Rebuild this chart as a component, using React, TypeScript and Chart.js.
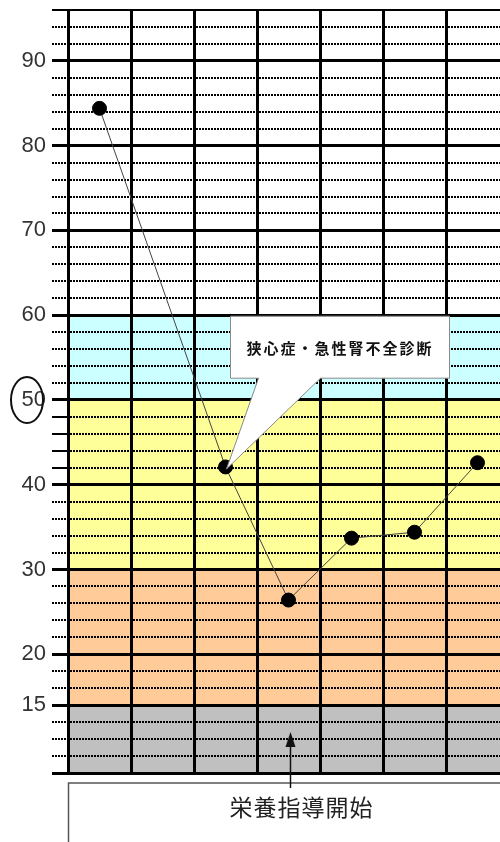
import { useEffect, useRef } from 'react';
import { Chart, registerables } from 'chart.js';

Chart.register(...registerables);

// One column per visit; visit 2 has no measurement.
const visits = ['1', '2', '3', '4', '5', '6', '7'];
const scoreValues: (number | null)[] = [84.4, null, 42.1, 26.4, 33.7, 34.4, 42.6];

// Labelled rows of the value axis (the lowest band line carries "15").
const tickValues = [90, 80, 70, 60, 50, 40, 30, 20, 14];
const tickLabels = ['90', '80', '70', '60', '50', '40', '30', '20', '15'];

// Coloured ranges behind the grid.
const bandUpper = [60, 50, 30, 14];
const bandLower = [50, 30, 14, 6];
const bandColors = ['#CCFFFF', '#FFFF99', '#FFCC99', '#C0C0C0'];

const calloutText = '狭心症・急性腎不全診断';
const calloutIndex = 2;
const noteText = '栄養指導開始';
const noteIndex = 3;
const circledValue = 50;

const Y_MIN = 6;
const Y_MAX = 96;
const Y_STEP = 2;
const X_MAX = 432 / 63;
const SOLID_TICKS_FROM = 40;
const SOLID_TICKS_TO = 50;

const isMajor = (v: number) => tickValues.includes(v) || v === Y_MIN;

const decorations = {
  id: 'decorations',
  beforeDraw(chart: any) {
    const { ctx, chartArea, scales } = chart;
    const y = scales.y;
    ctx.save();
    bandColors.forEach((color, i) => {
      const top = y.getPixelForValue(bandUpper[i]);
      const bottom = y.getPixelForValue(bandLower[i]);
      ctx.fillStyle = color;
      ctx.fillRect(chartArea.left, top, chartArea.right - chartArea.left, bottom - top);
    });
    ctx.restore();
  },
  afterDraw(chart: any) {
    const { ctx, chartArea, scales } = chart;
    const y = scales.y;
    const points = chart.getDatasetMeta(0).data;
    ctx.save();

    // speech bubble pointing at the diagnosis visit
    const pt = points[calloutIndex];
    const tipX = pt.x + 1;
    const tipY = pt.y + 2;
    const bx = pt.x + 5;
    const by = y.getPixelForValue(60) + 1;
    const bw = 219;
    const bh = 62;
    const tailL = bx + 28;
    const tailR = bx + 90;
    ctx.beginPath();
    ctx.moveTo(bx, by);
    ctx.lineTo(bx + bw, by);
    ctx.lineTo(bx + bw, by + bh);
    ctx.lineTo(tailR, by + bh);
    ctx.lineTo(tipX, tipY);
    ctx.lineTo(tailL, by + bh);
    ctx.lineTo(bx, by + bh);
    ctx.closePath();
    ctx.fillStyle = '#ffffff';
    ctx.fill();
    ctx.strokeStyle = '#8a8a8a';
    ctx.lineWidth = 1;
    ctx.stroke();
    ctx.fillStyle = '#111';
    ctx.font = "bold 15px 'Noto Sans CJK JP'";
    (ctx as any).letterSpacing = '2px';
    ctx.textAlign = 'center';
    ctx.textBaseline = 'middle';
    ctx.fillText(calloutText, bx + bw / 2, by + bh / 2 + 1);
    (ctx as any).letterSpacing = '0px';

    // ring around the reference value on the axis
    ctx.beginPath();
    ctx.ellipse(chartArea.left - 41, y.getPixelForValue(circledValue), 16, 23, 0, 0, Math.PI * 2);
    ctx.strokeStyle = '#111';
    ctx.lineWidth = 2;
    ctx.stroke();

    // note box under the plot with an arrow up to the visit
    const ax = points[noteIndex].x + 2;
    const boxTop = chartArea.bottom + 10;
    ctx.strokeStyle = '#555';
    ctx.lineWidth = 1.5;
    ctx.strokeRect(chartArea.left + 0.5, boxTop, 1000, 1000);
    ctx.fillStyle = '#222';
    ctx.font = "23px 'Noto Sans CJK JP'";
    (ctx as any).letterSpacing = '1px';
    ctx.textAlign = 'center';
    ctx.textBaseline = 'middle';
    ctx.fillText(noteText, ax + 11, boxTop + 24);
    (ctx as any).letterSpacing = '0px';

    ctx.strokeStyle = '#111';
    ctx.lineWidth = 1.5;
    ctx.beginPath();
    ctx.moveTo(ax, chartArea.bottom + 15);
    ctx.lineTo(ax, chartArea.bottom - 30);
    ctx.stroke();
    ctx.fillStyle = '#111';
    ctx.beginPath();
    ctx.moveTo(ax, chartArea.bottom - 41);
    ctx.lineTo(ax - 5, chartArea.bottom - 26);
    ctx.lineTo(ax + 5, chartArea.bottom - 26);
    ctx.closePath();
    ctx.fill();

    ctx.restore();
  },
};

export default function App() {
  const canvasRef = useRef<HTMLCanvasElement | null>(null);

  useEffect(() => {
    const canvas = canvasRef.current;
    if (!canvas) return;

    const tickValue = (c: any) => (c && c.tick ? c.tick.value : undefined);

    const chart = new Chart(canvas, {
      type: 'line',
      data: {
        labels: visits,
        datasets: [
          {
            data: scoreValues.map((v, i) => ({ x: i + 0.5, y: v })),
            spanGaps: true,
            borderColor: '#444',
            borderWidth: 1,
            pointRadius: 7,
            pointBackgroundColor: '#000',
            pointBorderColor: '#000',
            pointBorderWidth: 1,
            tension: 0,
          },
        ],
      },
      options: {
        responsive: false,
        animation: false,
        events: [],
        layout: { autoPadding: false, padding: { top: 10, right: 0, bottom: 0, left: 0 } },
        plugins: {
          legend: { display: false },
          tooltip: { enabled: false },
        },
        scales: {
          x: {
            type: 'linear',
            min: 0,
            max: X_MAX,
            afterBuildTicks: (s: any) => {
              s.ticks = visits.map((_, i) => ({ value: i }));
            },
            afterFit: (s: any) => {
              s.height = 69;
              s.paddingLeft = 0;
              s.paddingRight = 0;
            },
            ticks: { display: false, stepSize: 1 },
            grid: {
              color: '#000',
              lineWidth: 3,
              drawTicks: false,
            },
            border: { display: true, color: '#000', width: 3 },
          },
          y: {
            type: 'linear',
            min: Y_MIN,
            max: Y_MAX,
            afterFit: (s: any) => {
              s.width = 68;
              s.paddingTop = 0;
              s.paddingBottom = 0;
            },
            ticks: {
              stepSize: Y_STEP,
              autoSkip: false,
              padding: 6,
              color: '#333',
              font: { family: "'Liberation Sans', Arial, sans-serif", size: 22 },
              callback: (v: any) => {
                const i = tickValues.indexOf(Number(v));
                return i >= 0 ? tickLabels[i] : '';
              },
            },
            grid: {
              color: '#000',
              tickColor: '#000',
              tickLength: 16,
              lineWidth: (c: any) => {
                const v = tickValue(c);
                if (v === undefined) return 2;
                if (isMajor(v)) return 3;
                return 2;
              },
              tickWidth: (c: any) => {
                const v = tickValue(c);
                if (v !== undefined && isMajor(v)) return 3;
                return 2;
              },
              tickBorderDash: (c: any) => {
                const v = tickValue(c);
                if (v === undefined || isMajor(v) || v === Y_MAX) return [];
                if (v > SOLID_TICKS_FROM && v < SOLID_TICKS_TO) return [];
                return [2, 1];
              },
            },
            border: {
              display: true,
              color: '#000',
              width: 3,
              dash: (c: any) => {
                const v = tickValue(c);
                if (v === undefined || isMajor(v) || v === Y_MAX) return [];
                return [2, 1];
              },
            },
          },
        },
      } as any,
      plugins: [decorations],
    });

    return () => chart.destroy();
  }, []);

  return (
    <div style={{ position: 'absolute', left: 0, top: 0, width: 500, height: 842, background: '#fff' }}>
      <canvas ref={canvasRef} width={500} height={842} style={{ display: 'block' }} />
    </div>
  );
}
